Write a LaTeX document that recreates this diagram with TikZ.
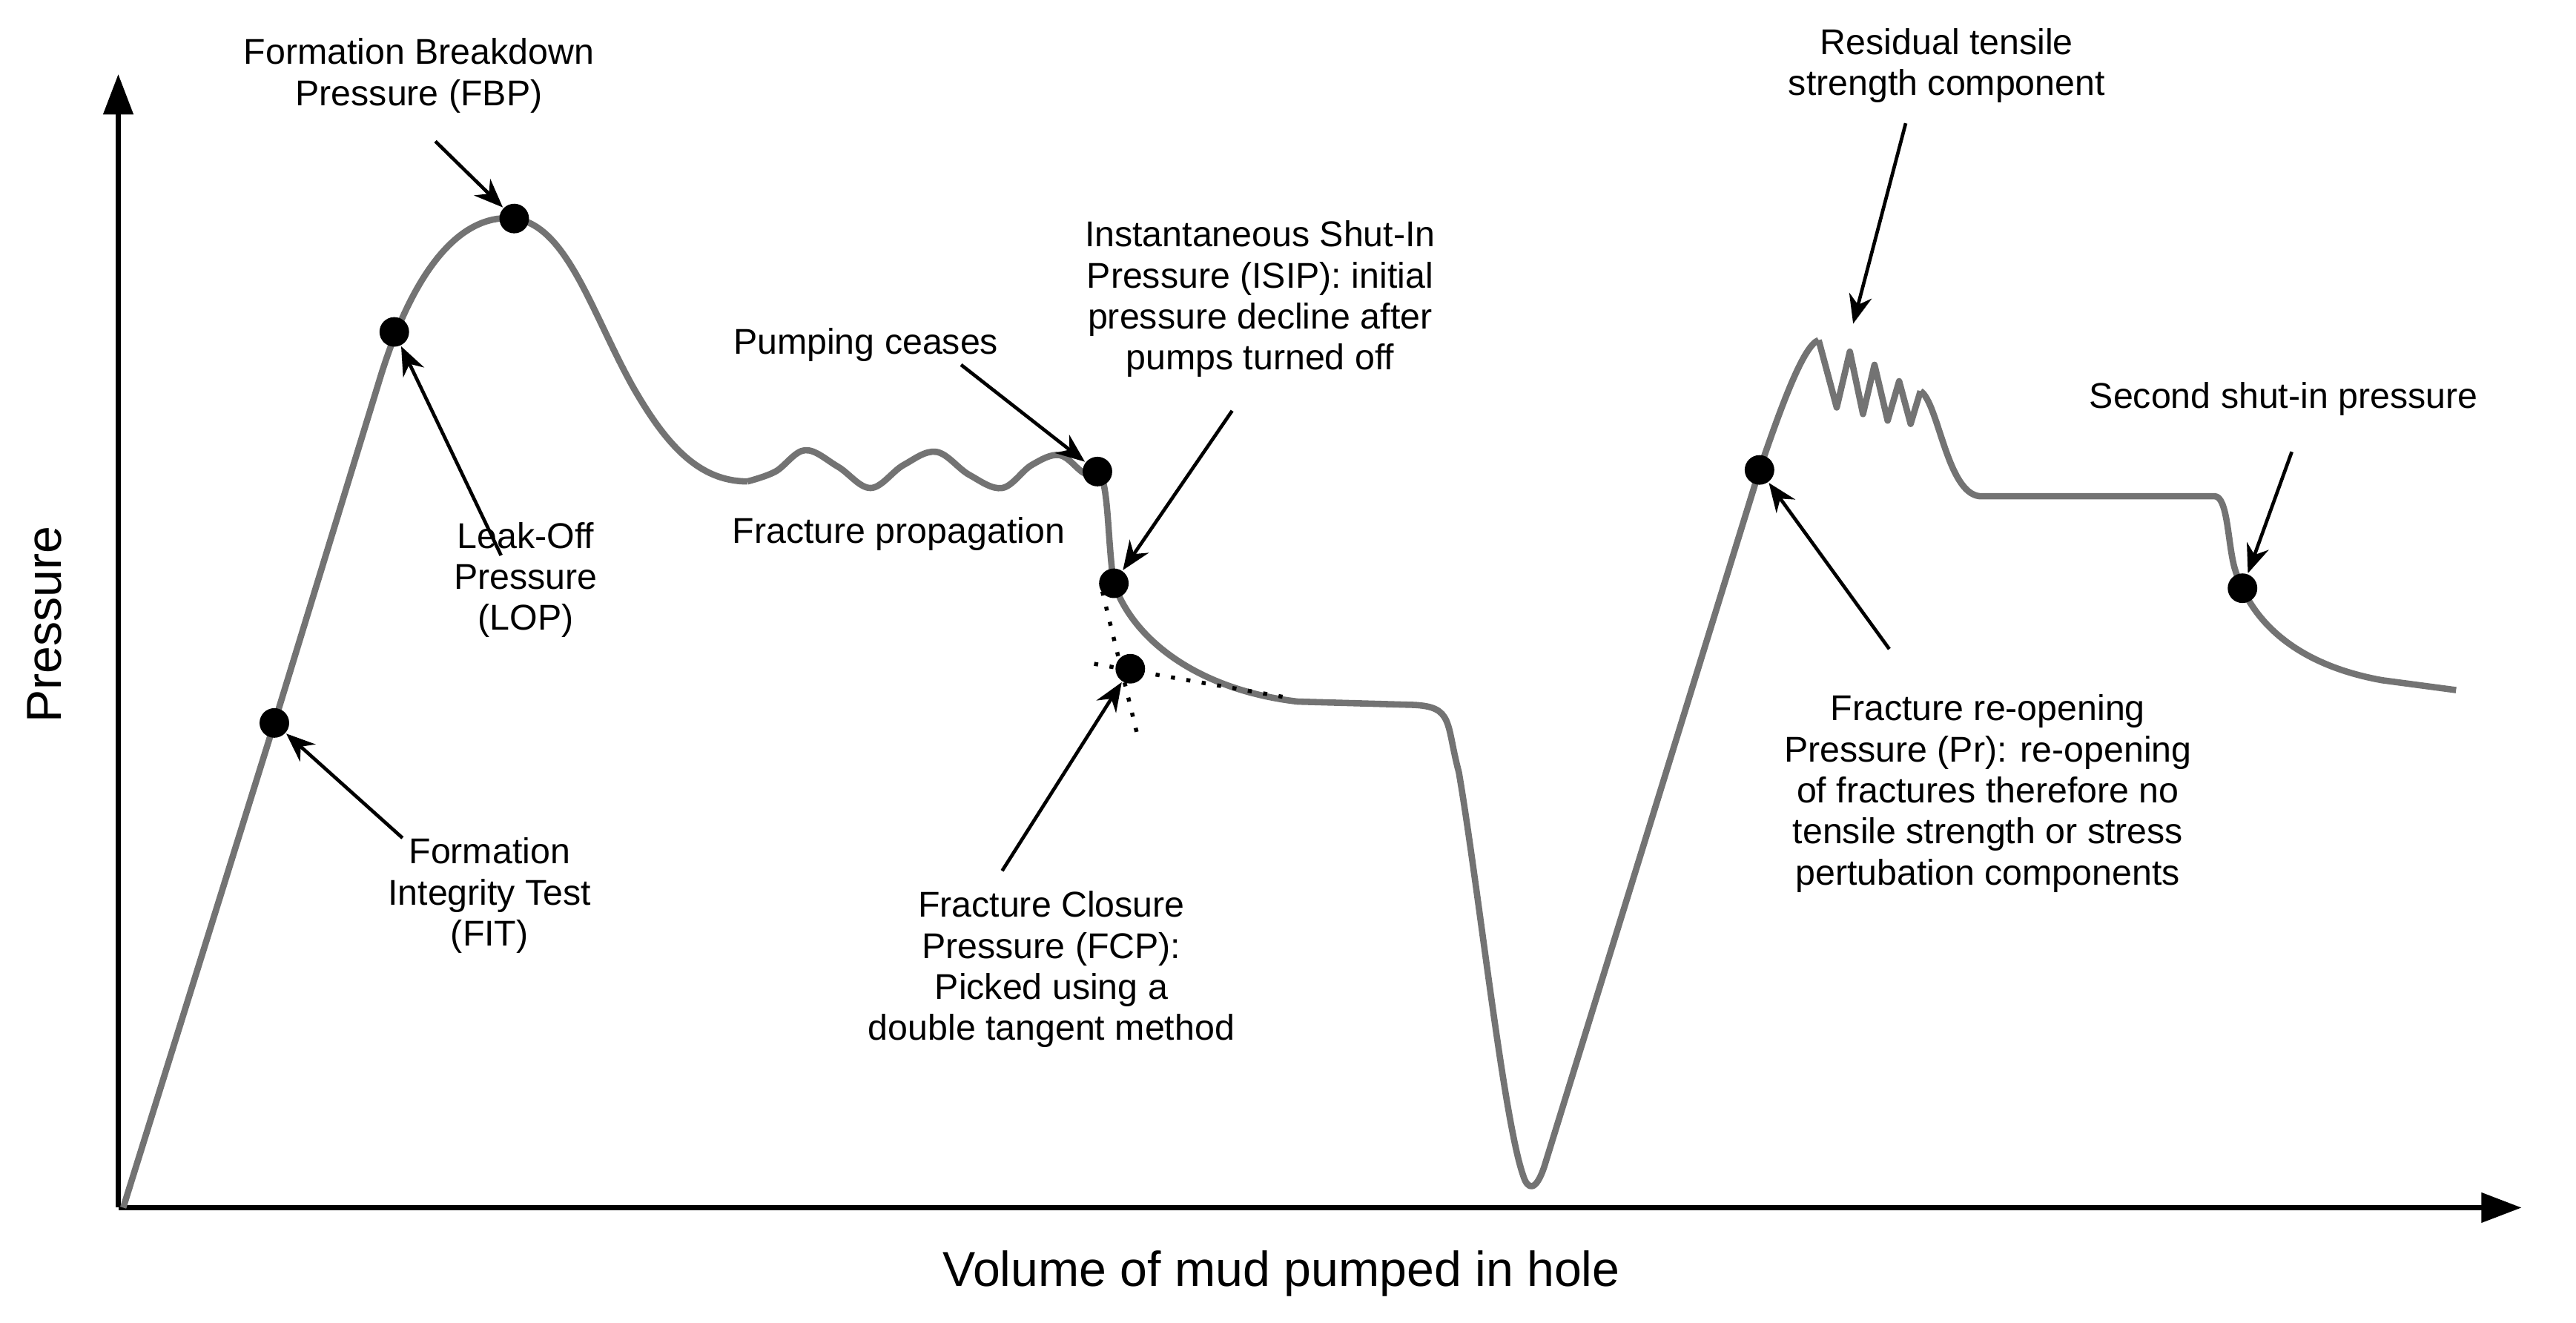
\documentclass[tikz,border=0pt]{standalone}
\usepackage{fontspec}
\setmainfont{Liberation Sans}
\usetikzlibrary{arrows.meta}
\begin{document}
\begin{tikzpicture}[x=0.01cm,y=-0.01cm,
  lbl/.style={align=center,font=\fontsize{6.2}{7.1}\selectfont,inner sep=0pt},
  ax/.style={line width=1pt,-{Triangle[length=7pt,width=5pt]}},
  crv/.style={draw=black!55,line width=1.1pt,line join=round},
  dot/.style={circle,fill=black,minimum size=0.18cm,inner sep=0pt},
  pt/.style={-{Stealth[length=5pt,width=4pt]},line width=0.6pt},
  tan/.style={dotted,line width=0.7pt}]
\useasboundingbox (0,0) rectangle (1568,805);
\coordinate (O) at (72,735);
\coordinate (Ytop) at (72,45);
\coordinate (Xend) at (1535,735);
\draw[ax] (O) -- (Ytop);
\draw[ax] (O) -- (Xend);
\node[rotate=90,font=\fontsize{8.5}{10}\selectfont] (ylab) at (27,380) {Pressure};
\node[font=\fontsize{8.5}{10}\selectfont] (xlab) at (780,775) {Volume of mud pumped in hole};
% curve
\draw[crv] (75,735) -- (167,440) -- (232,228) .. controls (255,155) and (285,130) .. (313,133)
  .. controls (345,137) and (360,190) .. (385,235) .. controls (405,270) and (425,293) .. (455,293);
\draw[crv] plot[smooth,tension=0.6] coordinates{(455,293)(472,287)(490,274)(510,284)(530,297)(550,283)(570,275)(590,289)(610,297)(628,283)(645,277)(660,288)(668,287)};
\draw[crv] (668,287) .. controls (675,290) and (674,330) .. (678,355)
  .. controls (690,390) and (730,420) .. (790,427) -- (860,429)
  .. controls (885,430) and (880,440) .. (888,470)
  .. controls (900,540) and (915,680) .. (927,715)
  .. controls (930,725) and (935,725) .. (940,710) -- (1071,286)
  .. controls (1085,245) and (1098,210) .. (1107,207);
\draw[crv] (1107,207) -- (1118,248) -- (1126,214) -- (1134,252) -- (1141,222) -- (1149,256) -- (1156,232) -- (1163,258) -- (1169,238);
\draw[crv] (1169,238) .. controls (1180,245) and (1185,300) .. (1205,302) -- (1348,302)
  .. controls (1356,302) and (1356,330) .. (1360,345) .. controls (1370,380) and (1400,405) .. (1450,414) -- (1495,420);
% tangents
\draw[tan] (671,360) -- (692,446);
\draw[tan] (666,404) -- (786,425);
% dots
\node[dot] (fit) at (167,440) {};
\node[dot] (lop) at (240,202) {};
\node[dot] (fbp) at (313,133) {};
\node[dot] (pc) at (668,287) {};
\node[dot] (isip) at (678,355) {};
\node[dot] (fcp) at (688,407) {};
\node[dot] (pr) at (1071,286) {};
\node[dot] (ssi) at (1365,358) {};
\coordinate (res) at (1128,197);
% labels
\node[lbl] (tfbp) at (255,46) {Formation Breakdown\\Pressure (FBP)};
\node[lbl] (tlop) at (320,353) {Leak-Off\\Pressure\\(LOP)};
\node[lbl] (tfit) at (298,545) {Formation\\Integrity Test\\(FIT)};
\node[lbl] (tpc) at (527,210) {Pumping ceases};
\node[lbl] (tfp) at (547,325) {Fracture propagation};
\node[lbl] (tisip) at (767,182) {Instantaneous Shut-In\\Pressure (ISIP): initial\\pressure decline after\\pumps turned off};
\node[lbl] (tfcp) at (640,590) {Fracture Closure\\Pressure (FCP):\\Picked using a\\double tangent method};
\node[lbl] (tres) at (1185,40) {Residual tensile\\strength component};
\node[lbl] (tssi) at (1390,243) {Second shut-in pressure};
\node[lbl] (tpr) at (1210,483) {Fracture re-opening\\Pressure (Pr): re-opening\\of fractures therefore no\\tensile strength or stress\\pertubation components};
% pointers
\draw[pt] (265,86) -- (fbp);
\draw[pt] (305,338) -- (lop);
\draw[pt] (245,510) -- (fit);
\draw[pt] (585,222) -- (pc);
\draw[pt] (750,250) -- (isip);
\draw[pt] (610,530) -- (fcp);
\draw[pt] (1160,75) -- (res);
\draw[pt] (1395,275) -- (ssi);
\draw[pt] (1150,395) -- (pr);
\end{tikzpicture}
\end{document}
